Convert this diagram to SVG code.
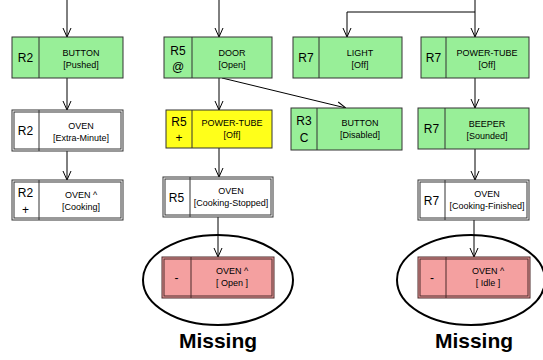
<svg xmlns="http://www.w3.org/2000/svg" width="543" height="360" viewBox="0 0 543 360">
<style>
.g{fill:#98ef98;stroke:#333;stroke-width:1}
.y{fill:#ffff1a;stroke:#333;stroke-width:1}
.w{fill:#fff;stroke:#333;stroke-width:1}
.p{fill:#f4a0a0;stroke:#4a2a2a;stroke-width:1}
.d{stroke:#333;stroke-width:1;fill:none}
.r{font-family:"Liberation Sans",Arial,sans-serif;font-size:12px;fill:#000;text-anchor:middle}
.t{font-family:"Liberation Sans",Arial,sans-serif;font-size:9px;fill:#000;text-anchor:middle}
.m{font-family:"Liberation Sans",Arial,sans-serif;font-size:21px;font-weight:bold;fill:#000;text-anchor:middle}
.c{stroke:#000;stroke-width:1;fill:none}
.e{stroke:#000;stroke-width:2;fill:none}
</style>
<defs>
<marker id="v" viewBox="0 0 10 10" refX="10" refY="5" markerWidth="10" markerHeight="10" markerUnits="userSpaceOnUse" orient="auto">
<path d="M1,1 L10,5 L1,9" fill="none" stroke="#000" stroke-width="1"/>
</marker>
</defs>
<g id="connectors">
<line class="c" x1="67" y1="0" x2="67" y2="37" marker-end="url(#v)"/>
<line class="c" x1="67" y1="78" x2="67" y2="110" marker-end="url(#v)"/>
<line class="c" x1="67" y1="151" x2="67" y2="180" marker-end="url(#v)"/>
<line class="c" x1="219" y1="0" x2="219" y2="37" marker-end="url(#v)"/>
<line class="c" x1="219" y1="78" x2="219" y2="110" marker-end="url(#v)"/>
<line class="c" x1="219" y1="148" x2="219" y2="177" marker-end="url(#v)"/>
<line class="c" x1="218" y1="217" x2="218" y2="257" marker-end="url(#v)"/>
<line class="c" x1="222" y1="78" x2="346" y2="108" marker-end="url(#v)"/>
<line class="c" x1="475" y1="0" x2="475" y2="37" marker-end="url(#v)"/>
<polyline class="c" points="475,12 347,12 347,37" marker-end="url(#v)"/>
<line class="c" x1="475" y1="78" x2="475" y2="108" marker-end="url(#v)"/>
<line class="c" x1="475" y1="149" x2="475" y2="180" marker-end="url(#v)"/>
<line class="c" x1="474" y1="220" x2="474" y2="257" marker-end="url(#v)"/>
</g>
<g id="n-button-pushed">
<rect class="g" x="12" y="37" width="111" height="41"/>
<line class="d" x1="39" y1="37" x2="39" y2="78"/>
<text class="r" x="25.5" y="62">R2</text>
<text class="t" x="81" y="56">BUTTON</text>
<text class="t" x="81" y="68">[Pushed]</text>
</g>
<g id="n-oven-extra">
<rect class="w" x="12" y="110" width="111" height="41"/>
<rect class="d" x="14" y="112" width="107" height="37"/>
<line class="d" x1="39" y1="110" x2="39" y2="151"/>
<text class="r" x="25.5" y="135">R2</text>
<text class="t" x="81" y="129">OVEN</text>
<text class="t" x="81" y="141">[Extra-Minute]</text>
</g>
<g id="n-oven-cooking">
<rect class="w" x="12" y="180" width="111" height="40"/>
<rect class="d" x="14" y="182" width="107" height="36"/>
<line class="d" x1="39" y1="180" x2="39" y2="220"/>
<text class="r" x="25.5" y="197">R2</text>
<text class="r" x="25.5" y="214">+</text>
<text class="t" x="81" y="198">OVEN ^</text>
<text class="t" x="81" y="210">[Cooking]</text>
</g>
<g id="n-door-open">
<rect class="g" x="164" y="37" width="108" height="41"/>
<line class="d" x1="192" y1="37" x2="192" y2="78"/>
<text class="r" x="178" y="55">R5</text>
<text class="r" x="178" y="71">@</text>
<text class="t" x="232" y="56">DOOR</text>
<text class="t" x="232" y="68">[Open]</text>
</g>
<g id="n-powertube-off-y">
<rect class="y" x="166" y="110" width="106" height="38"/>
<line class="d" x1="192" y1="110" x2="192" y2="148"/>
<text class="r" x="179" y="126">R5</text>
<text class="r" x="179" y="142">+</text>
<text class="t" x="232" y="126">POWER-TUBE</text>
<text class="t" x="232" y="138">[Off]</text>
</g>
<g id="n-oven-stopped">
<rect class="w" x="163" y="177" width="110" height="40"/>
<rect class="d" x="165" y="179" width="106" height="36"/>
<line class="d" x1="190" y1="177" x2="190" y2="217"/>
<text class="r" x="176.5" y="202">R5</text>
<text class="t" x="231" y="194">OVEN</text>
<text class="t" x="231" y="206">[Cooking-Stopped]</text>
</g>
<g id="n-oven-open-missing">
<ellipse class="e" cx="218" cy="280" rx="75" ry="45"/>
<rect class="p" x="162" y="257" width="112" height="41"/>
<rect class="d" x="164" y="259" width="108" height="37" style="stroke:#4a2a2a"/>
<line class="d" x1="191" y1="257" x2="191" y2="298" style="stroke:#4a2a2a"/>
<text class="r" x="176.5" y="282">-</text>
<text class="t" x="232" y="274">OVEN ^</text>
<text class="t" x="232" y="286">[ Open ]</text>
<text class="m" x="218" y="348">Missing</text>
</g>
<g id="n-light-off">
<rect class="g" x="293" y="37" width="109" height="41"/>
<line class="d" x1="319" y1="37" x2="319" y2="78"/>
<text class="r" x="306" y="62">R7</text>
<text class="t" x="360" y="56">LIGHT</text>
<text class="t" x="360" y="68">[Off]</text>
</g>
<g id="n-button-disabled">
<rect class="g" x="291" y="108" width="111" height="42"/>
<line class="d" x1="317" y1="108" x2="317" y2="150"/>
<text class="r" x="304" y="125">R3</text>
<text class="r" x="304" y="142">C</text>
<text class="t" x="360" y="126">BUTTON</text>
<text class="t" x="360" y="138">[Disabled]</text>
</g>
<g id="n-powertube-off">
<rect class="g" x="421" y="37" width="108" height="41"/>
<line class="d" x1="446" y1="37" x2="446" y2="78"/>
<text class="r" x="433.5" y="62">R7</text>
<text class="t" x="487" y="56">POWER-TUBE</text>
<text class="t" x="487" y="68">[Off]</text>
</g>
<g id="n-beeper">
<rect class="g" x="418" y="108" width="111" height="41"/>
<line class="d" x1="445" y1="108" x2="445" y2="149"/>
<text class="r" x="431.5" y="133">R7</text>
<text class="t" x="487" y="127">BEEPER</text>
<text class="t" x="487" y="139">[Sounded]</text>
</g>
<g id="n-oven-finished">
<rect class="w" x="418" y="180" width="111" height="40"/>
<rect class="d" x="420" y="182" width="107" height="36"/>
<line class="d" x1="445" y1="180" x2="445" y2="220"/>
<text class="r" x="431.5" y="205">R7</text>
<text class="t" x="487" y="197">OVEN</text>
<text class="t" x="487" y="209">[Cooking-Finished]</text>
</g>
<g id="n-oven-idle-missing">
<ellipse class="e" cx="471" cy="280" rx="74" ry="45"/>
<rect class="p" x="418" y="257" width="112" height="41"/>
<rect class="d" x="420" y="259" width="108" height="37" style="stroke:#4a2a2a"/>
<line class="d" x1="446" y1="257" x2="446" y2="298" style="stroke:#4a2a2a"/>
<text class="r" x="432" y="282">-</text>
<text class="t" x="488" y="274">OVEN ^</text>
<text class="t" x="488" y="286">[ Idle ]</text>
<text class="m" x="474" y="348">Missing</text>
</g>
</svg>
